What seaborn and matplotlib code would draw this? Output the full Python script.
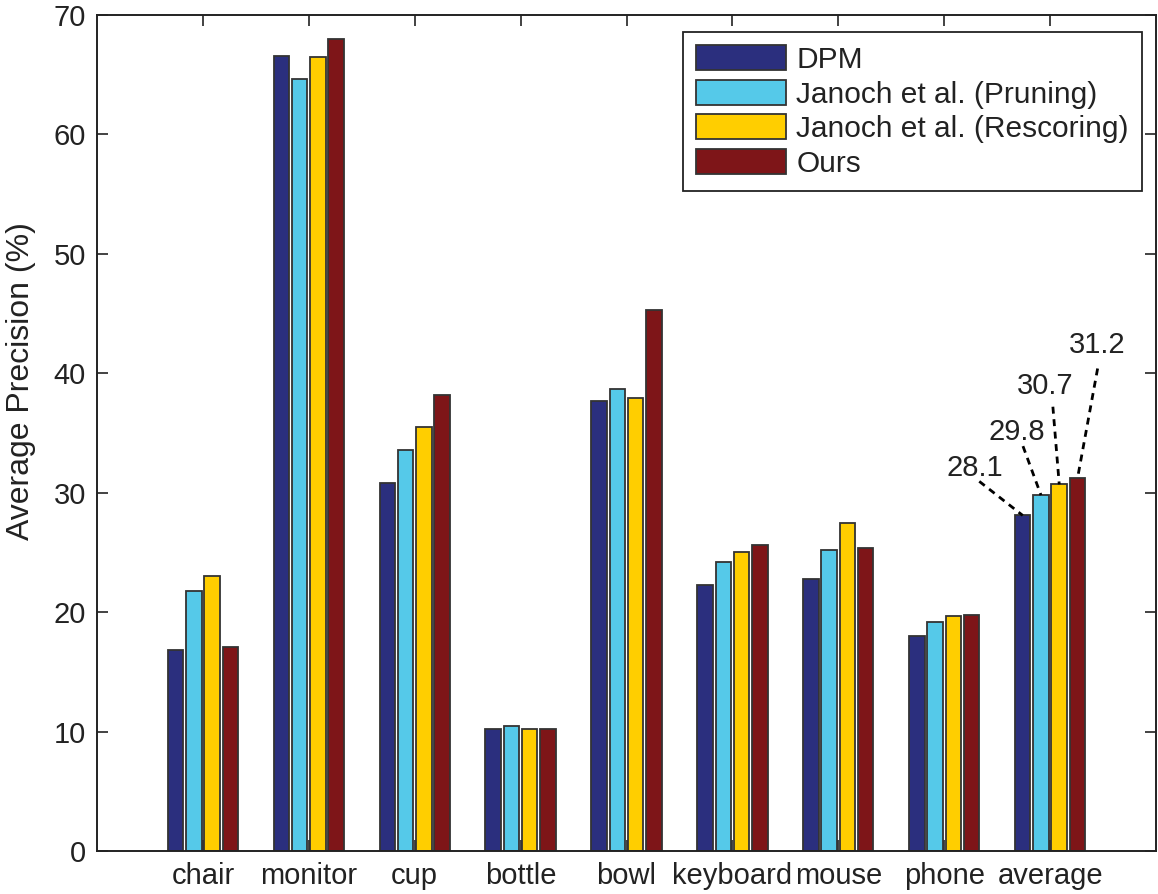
import numpy as np
import pandas as pd
import seaborn as sns
import matplotlib
matplotlib.use("Agg")
import matplotlib.pyplot as plt

# Per-category average precision (%) for each detector
categories = ["chair", "monitor", "cup", "bottle", "bowl", "keyboard", "mouse", "phone", "average"]
methods = ["DPM", "Janoch et al. (Pruning)", "Janoch et al. (Rescoring)", "Ours"]
dpm = [16.8, 66.6, 30.8, 10.2, 37.7, 22.3, 22.8, 18.0, 28.1]
pruning = [21.8, 64.6, 33.6, 10.5, 38.7, 24.2, 25.2, 19.2, 29.8]
rescoring = [23.0, 66.5, 35.5, 10.2, 37.9, 25.0, 27.5, 19.7, 30.7]
ours = [17.1, 68.0, 38.2, 10.2, 45.3, 25.6, 25.4, 19.8, 31.2]
colors = ["#2b2f7e", "#55c9e9", "#ffce00", "#7e1518"]
yticks = [0, 10, 20, 30, 40, 50, 60, 70]

series = [dpm, pruning, rescoring, ours]
df = pd.DataFrame({
    "category": np.tile(categories, len(methods)),
    "method": np.repeat(methods, len(categories)),
    "ap": np.concatenate(series),
})

sns.set_style("ticks")
plt.rcParams["font.family"] = ["Liberation Sans", "DejaVu Sans"]
ink = "#222222"
plt.rcParams["text.color"] = ink
plt.rcParams["axes.labelcolor"] = ink
plt.rcParams["xtick.color"] = ink
plt.rcParams["ytick.color"] = ink

fig = plt.figure(figsize=(11.58, 8.94), dpi=100)
ax = fig.add_axes([97 / 1158, 43 / 894, 1059 / 1158, 836 / 894])

sns.barplot(data=df, x="category", y="ap", hue="method", order=categories,
            hue_order=methods, palette=colors, width=0.69, gap=0.15,
            edgecolor="#333333", linewidth=1.3, saturation=1, ax=ax,
            errorbar=None)

ax.set_xlim(-1, len(categories))
ax.set_ylim(0, 70)
ax.set_yticks(yticks)
ax.set_xlabel("")
ax.set_ylabel("Average Precision (%)", fontsize=23)
ax.yaxis.set_label_coords(-0.058, 0.562)
ax.set_axisbelow(True)

for side in ["left", "right", "top", "bottom"]:
    ax.spines[side].set_visible(True)
    ax.spines[side].set_color(ink)
    ax.spines[side].set_linewidth(1.4)
ax.tick_params(direction="in", length=8, width=1.2, top=True, right=True,
               labelsize=21, pad=8)

# Legend in a plain square box
handles, labels = ax.get_legend_handles_labels()
leg = ax.legend(handles, labels, loc="upper right", bbox_to_anchor=(0.987, 0.98),
                borderaxespad=0, fontsize=21.5, frameon=True, fancybox=False,
                framealpha=1, edgecolor=ink, handlelength=3.0, handleheight=0.9,
                handletextpad=0.35, labelspacing=0.2, borderpad=0.45)
leg.get_frame().set_linewidth(1.3)

# Value callouts for the "average" group, joined to the bar tops by dashed leaders
callout = [(-0.45, 4.0, -0.41, 2.85), (-0.23, 5.3, -0.17, 4.1),
           (-0.13, 8.2, -0.06, 6.5), (0.19, 11.2, 0.19, 9.2)]
avg_idx = categories.index("average")
for container, vals, (tdx, tdy, ldx, ldy) in zip(ax.containers, series, callout):
    bar = container.patches[avg_idx]
    bx = bar.get_x() + bar.get_width() / 2
    h = bar.get_height()
    ax.plot([bx + ldx, bx], [h + ldy, h], color="black", lw=2.0,
            linestyle=(0, (2.5, 2.0)), zorder=5)
    ax.text(bx + tdx, h + tdy, f"{vals[avg_idx]:.1f}", ha="center", va="center",
            fontsize=21, color=ink, zorder=6)

fig.savefig("out.png", dpi=100)
